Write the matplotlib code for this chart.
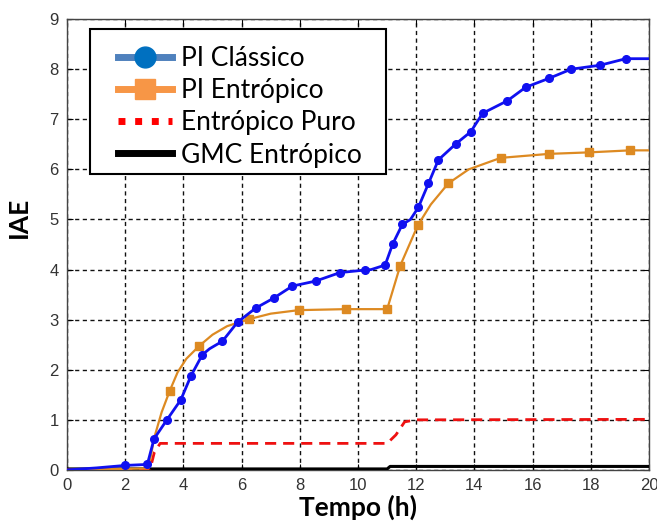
import matplotlib
matplotlib.use("Agg")
import matplotlib.pyplot as plt
from matplotlib.lines import Line2D
from matplotlib.patches import Rectangle

# PI Classico (blue)
pi_cl_t = [0.0, 1.0, 2.0, 2.76, 2.99, 3.42, 3.91, 4.26, 4.65, 4.9, 5.34, 5.86, 6.48,
           7.10, 7.74, 8.54, 9.38, 10.23, 10.45, 10.93, 11.19, 11.52, 11.8, 12.07,
           12.42, 12.76, 13.36, 13.87, 14.28, 15.13, 15.76, 16.57, 17.32, 18.32,
           19.2, 20.0]
pi_cl_y = [0.0, 0.04, 0.09, 0.11, 0.62, 0.99, 1.40, 1.88, 2.30, 2.42, 2.57, 2.95, 3.23,
           3.43, 3.67, 3.77, 3.94, 3.99, 4.0, 4.09, 4.51, 4.90, 5.0, 5.24,
           5.72, 6.19, 6.51, 6.75, 7.12, 7.37, 7.64, 7.82, 8.00, 8.08,
           8.21, 8.21]
pi_cl_marks = [2, 3, 4, 5, 6, 7, 8, 10, 11, 12, 13, 14, 15, 16, 17, 19, 20, 21, 23,
               24, 25, 26, 27, 28, 29, 30, 31, 32, 33, 34]

# PI Entropico (orange)
pi_en_t = [0.0, 2.8, 3.0, 3.25, 3.53, 3.8, 4.1, 4.55, 5.0, 5.5, 6.25, 7.0, 7.96,
           9.57, 11.0, 11.45, 12.05, 12.5, 13.1, 13.8, 14.9, 16.57, 17.95, 19.35, 20.0]
pi_en_y = [0.0, 0.03, 0.65, 1.15, 1.58, 1.95, 2.22, 2.48, 2.70, 2.87, 3.01, 3.12, 3.19,
           3.21, 3.21, 4.08, 4.88, 5.30, 5.72, 6.00, 6.23, 6.31, 6.34, 6.38, 6.38]
pi_en_marks = [4, 7, 10, 12, 13, 14, 15, 16, 18, 20, 21, 22, 23]

# Entropico Puro (red dashed)
puro_t = [0.0, 2.85, 3.0, 3.2, 11.0, 11.3, 11.6, 12.0, 20.0]
puro_y = [0.0, 0.0, 0.35, 0.53, 0.53, 0.70, 0.96, 1.0, 1.01]

# GMC Entropico (black)
gmc_t = [0.0, 11.0, 11.1, 20.0]
gmc_y = [0.02, 0.02, 0.07, 0.07]

xticks = list(range(0, 21, 2))
yticks = list(range(0, 10))
labels = ["PI Clássico", "PI Entrópico", "Entrópico Puro", "GMC Entrópico"]

blue = "#1010F0"
orange = "#DD8A22"

fig = plt.figure(figsize=(6.57, 5.31), dpi=100)
ax = fig.add_axes([0.102, 0.115, 0.886, 0.849])

ax.plot(gmc_t, gmc_y, color="black", lw=2.2, zorder=3)
ax.plot(puro_t, puro_y, color="#EE1111", lw=2.0, ls=(0, (4, 2.5)), zorder=3)
ax.plot(pi_en_t, pi_en_y, color=orange, lw=1.6, marker="s", ms=5.5,
        markevery=pi_en_marks, zorder=4)
ax.plot(pi_cl_t, pi_cl_y, color=blue, lw=2.0, marker="o", ms=5.5,
        markevery=pi_cl_marks, zorder=5)

ax.set_xlim(0, 20)
ax.set_ylim(0, 9)
ax.set_xticks(xticks)
ax.set_yticks(yticks)
ax.grid(True, color="#111111", ls=(0, (3, 2.5)), lw=1.0)
ax.tick_params(direction="in", top=True, right=True, length=4, width=0.8,
               labelsize=12, labelcolor="#333333", pad=6)
for lab in ax.get_xticklabels() + ax.get_yticklabels():
    lab.set_family("Liberation Sans")
for sp in ax.spines.values():
    sp.set_color("#444444")
    sp.set_linewidth(1.0)

ax.set_xlabel("Tempo (h)", family="Lato", fontweight="bold", fontsize=19, labelpad=1)
ax.set_ylabel("IAE", family="Lato", fontweight="bold", fontsize=19)
ax.yaxis.set_label_coords(-0.062, 0.56)

# legend box (drawn by hand, wider side padding than matplotlib's frame)
box = Rectangle((0.0395, 0.656), 0.509, 0.322, transform=ax.transAxes,
                facecolor="white", edgecolor="black", lw=1.5, zorder=9)
ax.add_patch(box)

handles = [
    Line2D([], [], color="#4F81BD", lw=5, marker="o", ms=15, mfc="#0070C0", mec="#0070C0"),
    Line2D([], [], color="#F79646", lw=5, marker="s", ms=15, mfc="#F79646", mec="#F79646"),
    Line2D([], [], color="#FF0000", lw=5, ls=(0, (1, 1.4))),
    Line2D([], [], color="black", lw=5),
]
leg = ax.legend(handles, labels, loc="upper left", bbox_to_anchor=(0.0876, 0.94),
                borderaxespad=0, borderpad=0, frameon=False,
                prop={"family": "Lato", "size": 19}, handlelength=2.05,
                handletextpad=0.35, labelspacing=0.27)
leg.set_zorder(10)

fig.savefig("out.png", dpi=100)
